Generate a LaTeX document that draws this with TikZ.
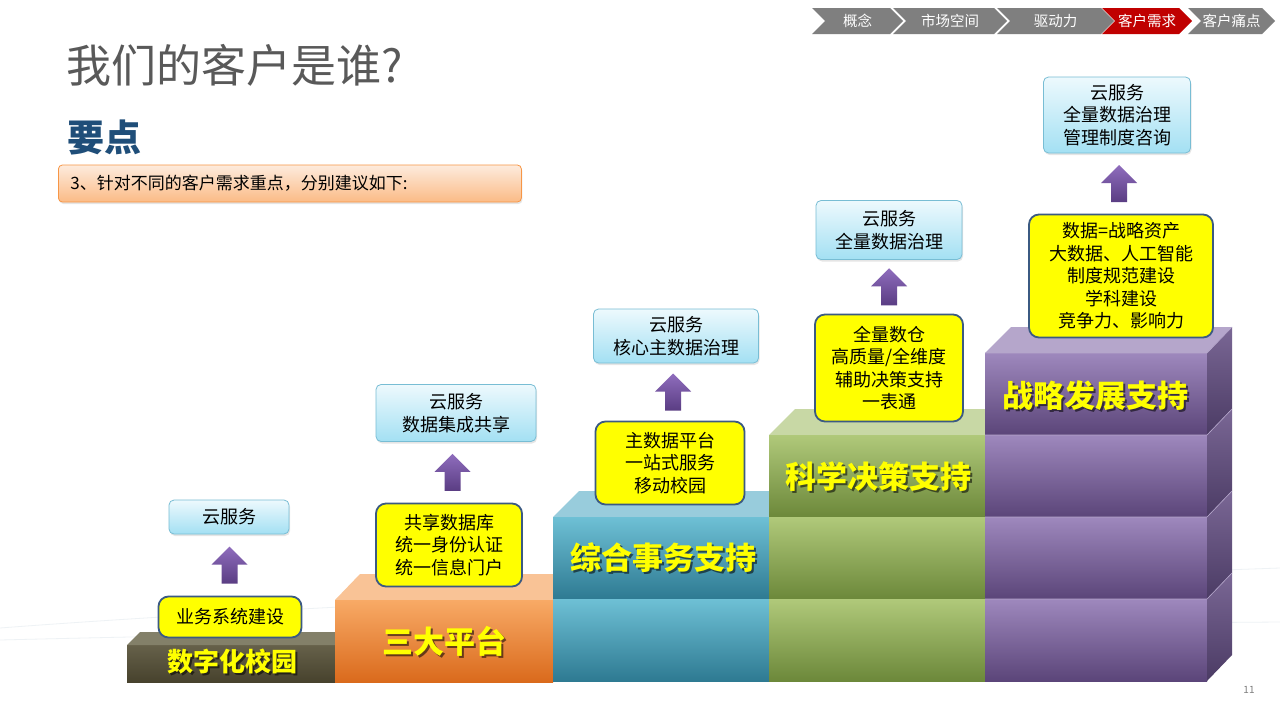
\documentclass[tikz,border=0pt]{standalone}
\usepackage{fontspec}
\usepackage{xcolor}
\usepackage{tikz}
\usetikzlibrary{positioning, shapes.symbols, shadows}
\newfontfamily\cjk{Noto Sans CJK SC}
\definecolor{crumbgray}{HTML}{7F7F7F}
\definecolor{crumbred}{HTML}{C00000}
\definecolor{titlegray}{HTML}{595959}
\definecolor{keyblue}{HTML}{1F4E79}
\definecolor{notetop}{HTML}{FDEBDD}
\definecolor{notebot}{HTML}{FBBB86}
\definecolor{noteline}{HTML}{F79646}
\definecolor{boxline}{HTML}{3B5A82}
\definecolor{cloudtop}{HTML}{EDF9FD}
\definecolor{cloudbot}{HTML}{A3E0F3}
\definecolor{cloudline}{HTML}{78BDD4}
\definecolor{arrowtop}{HTML}{8F6DBD}
\definecolor{arrowbot}{HTML}{5A3D83}
\definecolor{stepyellow}{HTML}{FFFF00}
\definecolor{olivetop}{HTML}{66614A}
\definecolor{olivebot}{HTML}{47422D}
\definecolor{olivelid}{HTML}{838069}
\definecolor{orangetop}{HTML}{F8AA66}
\definecolor{orangebot}{HTML}{DA6A1C}
\definecolor{orangelid}{HTML}{F9C396}
\definecolor{tealtop}{HTML}{6EC0D5}
\definecolor{tealbot}{HTML}{2E7A92}
\definecolor{teallid}{HTML}{98CCDC}
\definecolor{greentop}{HTML}{B0C97A}
\definecolor{greenbot}{HTML}{6C883A}
\definecolor{greenlid}{HTML}{C8D8A5}
\definecolor{purpletop}{HTML}{9E88BD}
\definecolor{purplebot}{HTML}{5B4579}
\definecolor{purplelid}{HTML}{B5A6CB}
\definecolor{purpleside}{HTML}{7A6795}
\definecolor{purplesidebot}{HTML}{4B3B64}
\definecolor{swooshgray}{HTML}{EEF2F5}

\begin{document}
\begin{tikzpicture}[x=1pt, y=-1pt,
  crumb/.style={signal, signal to=east, signal from=west, fill=crumbgray,
    minimum height=26, inner sep=0, text=white, font=\cjk\fontsize{14.5}{15}\selectfont},
  yellowbox/.style={draw=boxline, line width=1.8pt, fill=stepyellow, rounded corners=10,
    align=center, inner sep=0, font=\cjk\fontsize{18}{22.5}\selectfont},
  cloudbox/.style={draw=cloudline, line width=0.8pt, top color=cloudtop, bottom color=cloudbot,
    rounded corners=5, align=center, inner sep=0, font=\cjk\fontsize{18}{22.5}\selectfont,
    drop shadow={opacity=0.2, shadow xshift=1pt, shadow yshift=-2pt}},
  steptext/.style={text=stepyellow, font=\cjk\bfseries\fontsize{31}{31}\selectfont},
  stepshade/.style={text=black, opacity=0.55, font=\cjk\bfseries\fontsize{31}{31}\selectfont},
  swoosh/.style={swooshgray, line width=0.8pt},
  uparrow/.pic={
    \shade[top color=arrowtop, bottom color=arrowbot]
      (0,-18.5) -- (18,-0.5) -- (8,-0.5) -- (8,18.5) -- (-8,18.5) -- (-8,-0.5) -- (-18,-0.5) -- cycle;
  }]
  \useasboundingbox[fill=white] (0,0) rectangle (1280,720);
  % faint background swooshes
  \draw[swoosh] (0,628) .. controls (300,605) and (800,585) .. (1280,568);
  \draw[swoosh] (0,640) .. controls (400,630) and (900,625) .. (1280,622);
  % breadcrumb
  \node[crumb, minimum width=91] (c1) at (857.5,21) {概念};
  \node[crumb, minimum width=114] (c2) at (950,21) {市场空间};
  \node[crumb, minimum width=117] (c3) at (1055.5,21) {驱动力};
  \node[crumb, minimum width=90, fill=crumbred] (c4) at (1147,21) {客户需求};
  \node[crumb, minimum width=87] (c5) at (1231.5,21) {客户痛点};
  % heading
  \node[anchor=base west, inner sep=0, text=titlegray, font=\cjk\fontsize{45}{45}\selectfont] (title) at (66,82) {我们的客户是谁?};
  \node[anchor=west, inner sep=0, text=keyblue, font=\cjk\bfseries\fontsize{37}{37}\selectfont] (key) at (67,137) {要点};
  \node[draw=noteline, line width=0.8pt, top color=notetop, bottom color=notebot, rounded corners=4,
    anchor=west, minimum height=37, inner xsep=12, inner ysep=0, text width=439, align=left,
    drop shadow={opacity=0.2, shadow xshift=1pt, shadow yshift=-2pt},
    font=\cjk\fontsize{17}{20}\selectfont] (note) at (58,183.5) {3、针对不同的客户需求重点，分别建议如下:};
  % step 1: olive
  \shade[top color=olivetop, bottom color=olivebot] (127,645) rectangle (335,682);
  \fill[olivelid] (127,645) -- (140,632) -- (348,632) -- (335,645) -- cycle;
  % step 2: orange
  \fill[orangelid] (335,600) -- (360,574) -- (578,574) -- (553,600) -- cycle;
  \shade[top color=orangetop, bottom color=orangebot] (335,600) rectangle (553,682);
  % step 3: teal
  \fill[teallid] (553,517) -- (579,491) -- (795,491) -- (769,517) -- cycle;
  \foreach \t in {517,599}
    \shade[top color=tealtop, bottom color=tealbot] (553,\t) rectangle (769,\t+82);
  % step 4: green
  \fill[greenlid] (769,435) -- (795,409) -- (1011,409) -- (985,435) -- cycle;
  \foreach \t in {435,517,599}
    \shade[top color=greentop, bottom color=greenbot] (769,\t) rectangle (985,\t+82);
  % step 5: purple
  \fill[purplelid] (985,353) -- (1011,327) -- (1232,327) -- (1207,353) -- cycle;
  \foreach \t in {353,435,517,599} {
    \shade[top color=purpletop, bottom color=purplebot] (985,\t) rectangle (1207,\t+82);
    \shade[top color=purpleside, bottom color=purplesidebot] (1207,\t) -- (1232,\t-26) -- (1232,\t+56) -- (1207,\t+82) -- cycle;
    \draw[purplelid, line width=0.6pt] (985,\t) -- (1207,\t) -- (1232,\t-26);
  }
  % step labels
  \node[stepshade, font=\cjk\bfseries\fontsize{26}{26}\selectfont] (s1) at (234,664) {数字化校园};
  \node[steptext, font=\cjk\bfseries\fontsize{26}{26}\selectfont] (lbl1) at (232,662) {数字化校园};
  \node[stepshade] (s2) at (446,643) {三大平台};
  \node[steptext] (lbl2) at (444,641) {三大平台};
  \node[stepshade] (s3) at (665,560) {综合事务支持};
  \node[steptext] (lbl3) at (663,558) {综合事务支持};
  \node[stepshade] (s4) at (880,479) {科学决策支持};
  \node[steptext] (lbl4) at (878,477) {科学决策支持};
  \node[stepshade] (s5) at (1097,398) {战略发展支持};
  \node[steptext] (lbl5) at (1095,396) {战略发展支持};
  % needs
  \node[yellowbox, minimum width=143, minimum height=41] (yb1) at (230,617) {业务系统建设};
  \node[yellowbox, minimum width=146, minimum height=83] (yb2) at (449,545) {共享数据库\\统一身份认证\\统一信息门户};
  \node[yellowbox, minimum width=149, minimum height=83] (yb3) at (670,463) {主数据平台\\一站式服务\\移动校园};
  \node[yellowbox, minimum width=148, minimum height=107] (yb4) at (889,368) {全量数仓\\高质量/全维度\\辅助决策支持\\一表通};
  \node[yellowbox, minimum width=184, minimum height=123] (yb5) at (1121,276) {数据=战略资产\\大数据、人工智能\\制度规范建设\\学科建设\\竞争力、影响力};
  % cloud services
  \node[cloudbox, minimum width=120, minimum height=34] (cb1) at (229,517) {云服务};
  \node[cloudbox, minimum width=160, minimum height=57] (cb2) at (456,413) {云服务\\数据集成共享};
  \node[cloudbox, minimum width=165, minimum height=54] (cb3) at (676,336) {云服务\\核心主数据治理};
  \node[cloudbox, minimum width=146, minimum height=59] (cb4) at (889,230) {云服务\\全量数据治理};
  \node[cloudbox, minimum width=147, minimum height=76] (cb5) at (1117,115) {云服务\\全量数据治理\\管理制度咨询};
  % arrows
  \foreach \i in {1,...,5} {
    \path (yb\i.north) -- (cb\i.south) coordinate[midway] (m\i);
    \pic at (m\i) {uparrow};
  }
  % page number
  \node[text=crumbgray, font=\cjk\fontsize{10}{10}\selectfont] (page) at (1249,690) {11};
\end{tikzpicture}
\end{document}
